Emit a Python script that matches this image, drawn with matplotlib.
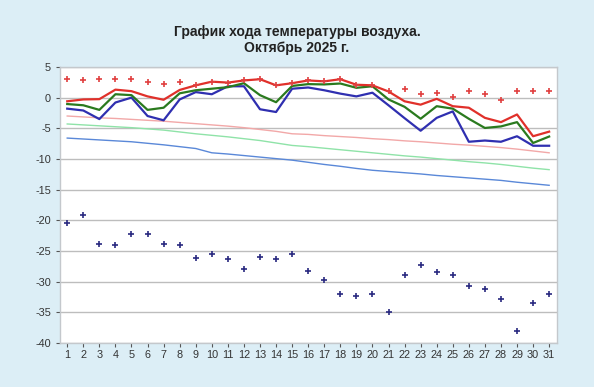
import numpy as np
import matplotlib.pyplot as plt

# Дни месяца
days = np.arange(1, 32)

# Максимальная, средняя и минимальная температура за сутки
t_max = [-0.6, -0.3, -0.25, 1.3, 1.05, 0.2, -0.35, 1.25, 2.0, 2.6, 2.45, 2.8, 3.0, 2.0, 2.35,
         2.8, 2.65, 3.0, 2.1, 2.0, 1.0, -0.6, -1.15, -0.2, -1.4, -1.65, -3.3, -4.0, -2.75, -6.3, -5.55]
t_mean = [-1.05, -1.25, -2.0, 0.55, 0.4, -2.0, -1.65, 0.7, 1.2, 1.45, 1.7, 2.35, 0.4, -0.75, 1.9,
          2.2, 2.15, 2.3, 1.6, 1.85, -0.3, -1.5, -3.45, -1.4, -1.8, -3.45, -4.95, -4.7, -4.0, -7.4, -6.35]
t_min = [-1.8, -2.1, -3.5, -0.8, 0.0, -3.0, -3.7, -0.3, 0.9, 0.55, 1.85, 1.85, -1.9, -2.35, 1.45,
         1.65, 1.2, 0.65, 0.2, 0.8, -1.25, -3.35, -5.4, -3.3, -2.25, -7.2, -7.0, -7.2, -6.3, -7.85, -7.85]

# Абсолютный максимум и абсолютный минимум
abs_max = [3.0, 2.85, 3.1, 3.1, 3.0, 2.5, 2.3, 2.55, 2.0, 2.6, 2.45, 2.8, 3.0, 2.0, 2.35,
           2.8, 2.65, 3.0, 2.1, 2.0, 1.0, 1.45, 0.55, 0.75, 0.1, 1.05, 0.55, -0.4, 1.05, 1.05, 1.05]
abs_min = [-20.4, -19.1, -23.9, -24.0, -22.2, -22.3, -23.8, -24.0, -26.1, -25.5, -26.4, -28.0, -26.0, -26.3, -25.5,
           -28.3, -29.7, -32.1, -32.4, -32.0, -35.0, -29.0, -27.3, -28.5, -29.0, -30.7, -31.25, -32.8, -38.1, -33.5, -32.1]

# Климатические нормы
norm_max = [-3.0, -3.15, -3.3, -3.4, -3.55, -3.7, -3.85, -4.05, -4.25, -4.45, -4.65, -4.9, -5.2, -5.5, -5.9,
            -6.0, -6.2, -6.35, -6.5, -6.7, -6.85, -7.05, -7.2, -7.4, -7.6, -7.75, -7.95, -8.15, -8.4, -8.7, -9.0]
norm_mean = [-4.3, -4.45, -4.6, -4.75, -4.9, -5.1, -5.3, -5.6, -5.9, -6.15, -6.4, -6.7, -7.0, -7.4, -7.8,
             -8.0, -8.25, -8.5, -8.75, -9.0, -9.25, -9.5, -9.7, -9.95, -10.2, -10.45, -10.65, -10.9, -11.2, -11.5, -11.75]
norm_min = [-6.6, -6.75, -6.9, -7.05, -7.2, -7.45, -7.7, -8.0, -8.3, -9.0, -9.2, -9.45, -9.7, -9.95, -10.2,
            -10.55, -10.9, -11.2, -11.55, -11.85, -12.05, -12.25, -12.45, -12.7, -12.9, -13.1, -13.3, -13.5, -13.8, -14.05, -14.3]

plt.rcParams['font.family'] = ['Liberation Sans', 'DejaVu Sans']
plt.rcParams['axes.unicode_minus'] = False

bg = '#dceef6'
fig = plt.figure(figsize=(5.94, 3.87), dpi=100, facecolor=bg)
ax = fig.add_axes([0.101, 0.114, 0.837, 0.713])
ax.set_facecolor('white')

# Нормы
ax.plot(days, norm_max, color='#f2a8a8', linewidth=1.0)
ax.plot(days, norm_mean, color='#8fe3a8', linewidth=1.0)
ax.plot(days, norm_min, color='#5a88d8', linewidth=1.0)

# Фактическая температура
ax.plot(days, t_min, color='#2f2fb0', linewidth=1.6)
ax.plot(days, t_mean, color='#2a7a1e', linewidth=1.6)
ax.plot(days, t_max, color='#e0302a', linewidth=1.6)

# Абсолютные экстремумы
ax.plot(days, abs_max, linestyle='none', marker='+', markersize=4, markeredgewidth=1.2, color='#e04040')
ax.plot(days, abs_min, linestyle='none', marker='+', markersize=4, markeredgewidth=1.2, color='#2a2a80')

ax.set_xlim(0.55, 31.5)
ax.set_ylim(-40, 5)
ax.set_xticks(days)
ax.set_yticks(np.arange(-40, 6, 5))
ax.grid(axis='y', color='#bdbdbd', linewidth=1.0)
ax.set_axisbelow(True)

for s in ax.spines.values():
    s.set_color('#c4c8cc')
    s.set_linewidth(1.0)
ax.tick_params(axis='both', colors='#555555', labelcolor='#333333', labelsize=7.8, length=3, width=0.8)
ax.tick_params(axis='x', pad=2)

fig.text(0.5, 0.897, 'График хода температуры воздуха.\nОктябрь 2025 г.', ha='center', va='center',
         fontsize=10, fontweight='bold', color='#222222', linespacing=1.2)

fig.savefig('out.png', dpi=100, facecolor=bg)
